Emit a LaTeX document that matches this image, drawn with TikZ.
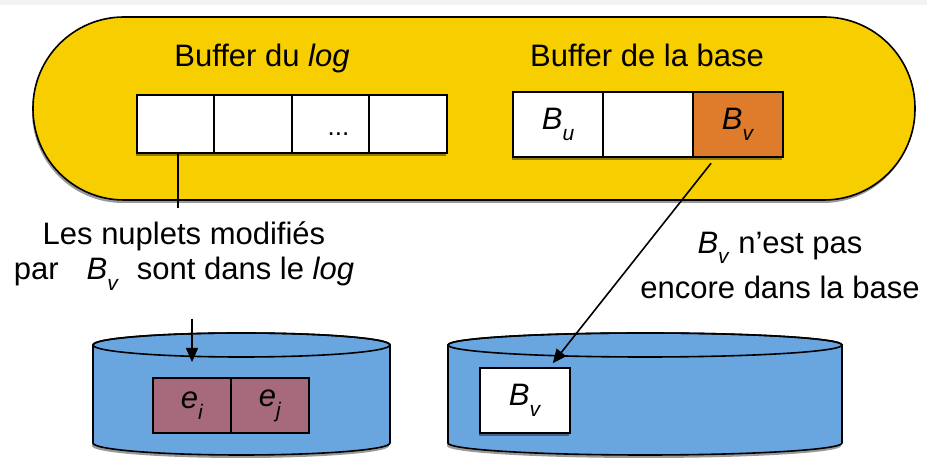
\documentclass[tikz,border=0pt]{standalone}
\usepackage{fontspec}
\setmainfont{Liberation Sans}
\usetikzlibrary{positioning,arrows.meta,shadows}
\definecolor{memyellow}{RGB}{247,206,0}
\definecolor{pageorange}{RGB}{223,124,43}
\definecolor{diskblue}{RGB}{105,165,222}
\definecolor{tuplemauve}{RGB}{166,106,124}
\newcommand{\Bsub}[1]{\textit{B}\raisebox{-0.35em}{\fontsize{10.5}{11}\selectfont\textit{#1}}}
\newcommand{\esub}[1]{\textit{e}\raisebox{-0.35em}{\fontsize{10.5}{11}\selectfont\textit{#1}}}
\tikzset{
txt/.style={font=\fontsize{15.5}{19}\selectfont},
softshadow/.style={drop shadow={shadow xshift=-0.5pt,shadow yshift=-1.5pt,opacity=.4,fill=black}},
memframe/.style={draw,thick,fill=memyellow,rounded corners=45.5pt,softshadow},
disk/.style={draw,thick,fill=diskblue,softshadow},
logcell/.style={draw,thick,fill=white,minimum width=38.75pt,minimum height=29pt,inner sep=0pt,outer sep=0pt,softshadow},
pagecell/.style={draw,thick,fill=white,minimum width=45pt,minimum height=32.5pt,inner sep=0pt,outer sep=0pt,txt,softshadow},
tuplecell/.style={draw,thick,fill=tuplemauve,minimum width=39pt,minimum height=27.5pt,inner sep=0pt,outer sep=0pt,txt},
note/.style={txt,align=center,inner sep=0pt},
flowarrow/.style={-{Triangle[length=7pt,width=6pt]},thick}
}
\begin{document}
\begin{tikzpicture}[x=0.5pt,y=-0.5pt]
\useasboundingbox[fill=white] (0,0) rectangle (927,469);
\fill[black!5] (0,0) rectangle (927,5);
\draw[memframe] (33,17) rectangle (915,200);
\node[txt] (logtitle) at (262,58) {Buffer du \textit{log}};
\node[txt] (basetitle) at (647,55) {Buffer de la base};
% buffer du log
\node[logcell] (log1) at (175.5,124) {};
\node[logcell,right=0pt of log1] (log2) {};
\node[logcell,right=0pt of log2,font=\fontsize{13}{13}\selectfont,text height=12pt,text depth=0pt] (log3) {\hspace{8pt}...};
\node[logcell,right=0pt of log3] (log4) {};
% buffer de la base
\node[pagecell] (page1) at (558,124.5) {\Bsub{u}};
\node[pagecell,right=0pt of page1] (page2) {};
\node[pagecell,right=0pt of page2,fill=pageorange] (page3) {\Bsub{v}};
% les deux disques
\draw[disk] (93,345) -- (93,443) arc[start angle=180,end angle=360,x radius=74.25pt,y radius=6pt] -- (390,345) arc[start angle=0,end angle=180,x radius=74.25pt,y radius=6pt];
\draw[thick] (241.5,345) ellipse[x radius=74.25pt,y radius=6pt];
\draw[disk] (448,345) -- (448,443) arc[start angle=180,end angle=360,x radius=98.5pt,y radius=6pt] -- (842,345) arc[start angle=0,end angle=180,x radius=98.5pt,y radius=6pt];
\draw[thick] (645,345) ellipse[x radius=98.5pt,y radius=6pt];
\node[tuplecell] (tup1) at (192,405.5) {\esub{i}};
\node[tuplecell,right=0pt of tup1] (tup2) {\esub{j}};
\node[pagecell] (bvdisk) at (525,400.5) {\Bsub{v}};
% commentaires
\node[note,font=\fontsize{15.5}{17.5}\selectfont] (lognote) at (184,256) {Les nuplets modifiés\\par\hspace{14pt}\Bsub{v}\hspace{9pt}sont dans le \textit{log}};
\node[note,font=\fontsize{15.5}{22.5}\selectfont] (basenote) at (780,265) {\Bsub{v} n’est pas\\encore dans la base};
\draw[thick,shorten >=6.5pt] ([xshift=1.25pt]log1.south) -- ([xshift=1.25pt]log1.south |- lognote.north);
\draw[flowarrow,shorten <=14pt,shorten >=8pt] (tup1.north |- lognote.south) -- (tup1.north);
\draw[flowarrow,shorten <=4pt,shorten >=3pt] ([xshift=-11pt]page3.south) -- ([xshift=12pt]bvdisk.north);
\end{tikzpicture}
\end{document}
